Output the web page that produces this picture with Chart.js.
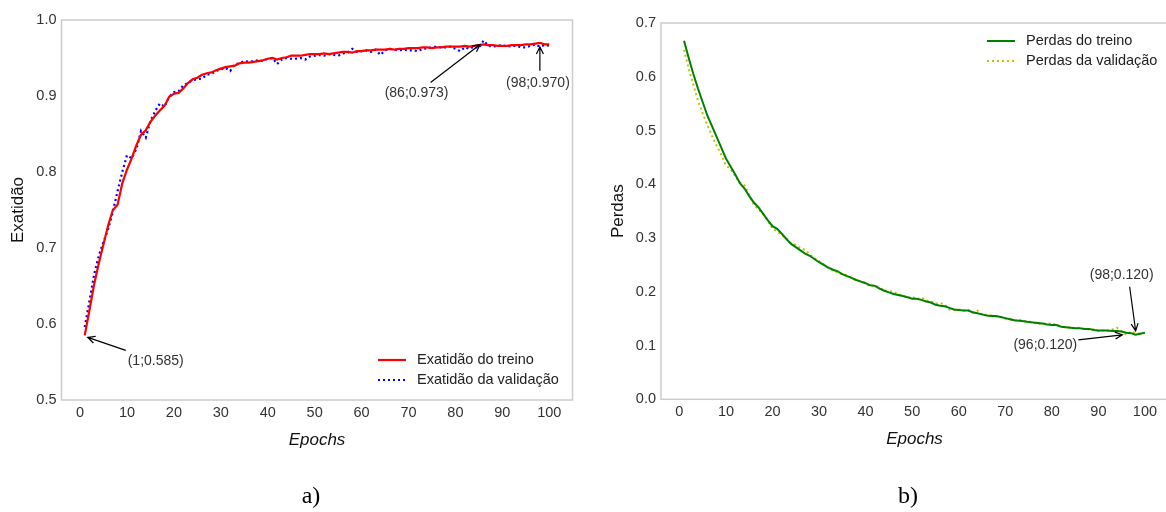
<!DOCTYPE html>
<html>
<head>
<meta charset="utf-8">
<script src="https://cdn.jsdelivr.net/npm/chart.js@4"></script>
<style>
  html, body { margin: 0; padding: 0; background: #fff; overflow: hidden; width: 1166px; height: 512px; }
  canvas { position: absolute; top: 0; }
  #accChart { left: 0; }
  #lossChart { left: 590px; }
</style>
</head>
<body>
<canvas id="accChart" width="590" height="512"></canvas>
<canvas id="lossChart" width="590" height="512"></canvas>
<script>
// epochs 1..100
const epochs = Array.from({ length: 100 }, (_, i) => i + 1);
const xTicks = [0, 10, 20, 30, 40, 50, 60, 70, 80, 90, 100];
const accTicks = [0.5, 0.6, 0.7, 0.8, 0.9, 1.0];
const lossTicks = [0.0, 0.1, 0.2, 0.3, 0.4, 0.5, 0.6, 0.7];

const accTrain = [
  0.585, 0.618, 0.652, 0.680, 0.705, 0.730, 0.750, 0.757, 0.785, 0.803,
  0.818, 0.835, 0.849, 0.855, 0.866, 0.874, 0.881, 0.887, 0.899, 0.903,
  0.904, 0.910, 0.917, 0.922, 0.924, 0.928, 0.930, 0.931, 0.934, 0.936,
  0.938, 0.939, 0.940, 0.943, 0.944, 0.944, 0.945, 0.946, 0.947, 0.949,
  0.950, 0.948, 0.950, 0.951, 0.953, 0.953, 0.953, 0.954, 0.955, 0.955,
  0.955, 0.956, 0.955, 0.956, 0.957, 0.958, 0.958, 0.957, 0.959, 0.959,
  0.960, 0.960, 0.961, 0.961, 0.961, 0.962, 0.961, 0.962, 0.962, 0.963,
  0.963, 0.963, 0.964, 0.964, 0.963, 0.964, 0.964, 0.965, 0.965, 0.965,
  0.965, 0.966, 0.965, 0.966, 0.967, 0.968, 0.967, 0.967, 0.966, 0.966,
  0.966, 0.967, 0.967, 0.967, 0.968, 0.968, 0.969, 0.970, 0.968, 0.968
];
const accVal = [
  0.596, 0.630, 0.665, 0.690, 0.708, 0.725, 0.748, 0.775, 0.800, 0.822,
  0.818, 0.830, 0.854, 0.845, 0.867, 0.880, 0.890, 0.886, 0.899, 0.905,
  0.906, 0.914, 0.917, 0.921, 0.922, 0.923, 0.928, 0.929, 0.933, 0.935,
  0.937, 0.933, 0.942, 0.943, 0.946, 0.945, 0.946, 0.947, 0.946, 0.949,
  0.950, 0.942, 0.948, 0.950, 0.949, 0.949, 0.950, 0.948, 0.952, 0.953,
  0.954, 0.953, 0.955, 0.954, 0.953, 0.956, 0.957, 0.962, 0.958, 0.959,
  0.960, 0.958, 0.961, 0.954, 0.960, 0.962, 0.961, 0.960, 0.961, 0.960,
  0.960, 0.959, 0.962, 0.963, 0.964, 0.965, 0.964, 0.964, 0.965, 0.962,
  0.959, 0.964, 0.962, 0.965, 0.963, 0.973, 0.966, 0.965, 0.966, 0.967,
  0.965, 0.966, 0.966, 0.964, 0.964, 0.966, 0.968, 0.965, 0.967, 0.966
];
const lossTrain = [
  0.667, 0.635, 0.605, 0.578, 0.553, 0.528, 0.508, 0.488, 0.468, 0.448,
  0.433, 0.418, 0.402, 0.392, 0.378, 0.366, 0.357, 0.345, 0.333, 0.322,
  0.317, 0.308, 0.298, 0.289, 0.283, 0.277, 0.271, 0.267, 0.261, 0.255,
  0.250, 0.245, 0.241, 0.238, 0.233, 0.229, 0.226, 0.222, 0.219, 0.216,
  0.212, 0.211, 0.206, 0.202, 0.199, 0.196, 0.194, 0.192, 0.190, 0.187,
  0.187, 0.185, 0.182, 0.180, 0.176, 0.174, 0.173, 0.170, 0.167, 0.166,
  0.165, 0.165, 0.162, 0.160, 0.158, 0.156, 0.155, 0.155, 0.153, 0.151,
  0.149, 0.147, 0.146, 0.145, 0.144, 0.143, 0.142, 0.141, 0.139, 0.138,
  0.138, 0.135, 0.134, 0.133, 0.132, 0.132, 0.131, 0.131, 0.129, 0.128,
  0.128, 0.128, 0.127, 0.127, 0.126, 0.124, 0.123, 0.120, 0.122, 0.124
];
const lossVal = [
  0.650, 0.615, 0.585, 0.555, 0.532, 0.510, 0.490, 0.472, 0.455, 0.435,
  0.428, 0.415, 0.403, 0.398, 0.380, 0.362, 0.353, 0.345, 0.332, 0.318,
  0.312, 0.305, 0.300, 0.290, 0.287, 0.281, 0.278, 0.270, 0.262, 0.257,
  0.251, 0.244, 0.240, 0.236, 0.232, 0.231, 0.226, 0.221, 0.220, 0.216,
  0.210, 0.213, 0.207, 0.203, 0.201, 0.200, 0.195, 0.193, 0.188, 0.191,
  0.186, 0.189, 0.184, 0.182, 0.178, 0.179, 0.176, 0.167, 0.166, 0.167,
  0.165, 0.167, 0.161, 0.165, 0.158, 0.157, 0.156, 0.154, 0.153, 0.150,
  0.149, 0.146, 0.148, 0.145, 0.145, 0.143, 0.140, 0.141, 0.140, 0.142,
  0.138, 0.136, 0.133, 0.134, 0.132, 0.133, 0.131, 0.130, 0.130, 0.127,
  0.128, 0.127, 0.130, 0.133, 0.126, 0.120, 0.126, 0.123, 0.122, 0.124
];

// annotated points: [epoch, value, label]
const accNotes = [[1, 0.585, '(1;0.585)'], [86, 0.973, '(86;0.973)'], [98, 0.970, '(98;0.970)']];
const lossNotes = [[98, 0.120, '(98;0.120)'], [96, 0.120, '(96;0.120)']];

const FONT = "'Liberation Sans', Arial, sans-serif";
const TICK = '#333333';

function drawArrow(ctx, x1, y1, x2, y2) {
  const a = Math.atan2(y2 - y1, x2 - x1);
  const h = 8;
  ctx.beginPath();
  ctx.moveTo(x1, y1);
  ctx.lineTo(x2, y2);
  ctx.moveTo(x2 - h * Math.cos(a - 0.45), y2 - h * Math.sin(a - 0.45));
  ctx.lineTo(x2, y2);
  ctx.lineTo(x2 - h * Math.cos(a + 0.45), y2 - h * Math.sin(a + 0.45));
  ctx.stroke();
}

const decor = {
  id: 'decor',
  beforeDatasetsDraw(chart) {
    const { ctx, chartArea: a } = chart;
    ctx.save();
    ctx.strokeStyle = '#cccccc';
    ctx.lineWidth = 1.5;
    ctx.strokeRect(a.left, a.top, a.right - a.left, a.bottom - a.top);
    ctx.restore();
  },
  afterDatasetsDraw(chart, args, opts) {
    const { ctx } = chart;
    const xs = chart.scales.x, ys = chart.scales.y;
    ctx.save();
    // annotations
    ctx.font = '14px ' + FONT;
    ctx.fillStyle = TICK;
    ctx.strokeStyle = '#000';
    ctx.lineWidth = 1.2;
    ctx.textAlign = 'center';
    ctx.textBaseline = 'middle';
    opts.notes.forEach((n, i) => {
      const o = opts.offsets[i];
      const px = xs.getPixelForValue(n[0]), py = ys.getPixelForValue(n[1]);
      ctx.fillText(n[2], px + o.text[0], py + o.text[1]);
      drawArrow(ctx, px + o.tail[0], py + o.tail[1], px + o.head[0], py + o.head[1]);
    });
    // legend
    const L = opts.legend;
    ctx.font = '14.5px ' + FONT;
    ctx.textAlign = 'left';
    chart.data.datasets.forEach((ds, i) => {
      const y = L.y + i * L.gap;
      ctx.strokeStyle = ds.borderColor;
      ctx.lineWidth = ds.borderWidth;
      ctx.setLineDash(ds.borderDash || []);
      ctx.beginPath();
      ctx.moveTo(L.x, y);
      ctx.lineTo(L.x + 28, y);
      ctx.stroke();
      ctx.setLineDash([]);
      ctx.fillStyle = '#222';
      ctx.fillText(ds.label, L.x + 39, y);
    });
    // caption
    ctx.font = "24px 'Liberation Serif', 'Times New Roman', serif";
    ctx.fillStyle = '#000';
    ctx.textAlign = 'center';
    ctx.fillText(opts.caption, opts.captionX, 497);
    ctx.restore();
  }
};

function makeChart(id, cfg) {
  return new Chart(document.getElementById(id), {
    type: 'line',
    data: {
      labels: epochs,
      datasets: cfg.series.map(s => ({
        label: s.label,
        data: s.data,
        borderColor: s.color,
        borderWidth: s.width,
        borderDash: s.dash,
        borderCapStyle: 'butt',
        pointRadius: 0,
        tension: 0,
        fill: false
      }))
    },
    options: {
      responsive: false,
      animation: false,
      layout: { padding: cfg.padding },
      plugins: {
        legend: { display: false },
        tooltip: { enabled: false },
        decor: cfg.decor
      },
      scales: {
        x: {
          type: 'linear',
          min: -3.95,
          max: 104.95,
          grid: { display: false, drawTicks: false },
          border: { display: false },
          afterBuildTicks: s => { s.ticks = xTicks.map(v => ({ value: v })); },
          afterFit: s => { s.height = 60; },
          ticks: { color: TICK, font: { family: FONT, size: 14.5 }, padding: 4, maxRotation: 0, callback: v => String(v) },
          title: { display: true, text: 'Epochs', color: '#111', font: { family: FONT, size: 17, style: 'italic' }, padding: { top: 0, bottom: 10 } }
        },
        y: {
          min: cfg.yMin,
          max: cfg.yMax,
          grid: { display: false, drawTicks: false },
          border: { display: false },
          afterBuildTicks: s => { s.ticks = cfg.yTicks.map(v => ({ value: v })); },
          afterFit: s => { s.width = cfg.yWidth; },
          ticks: { color: TICK, font: { family: FONT, size: 14.5 }, padding: 5, callback: v => v.toFixed(1) },
          title: { display: true, text: cfg.yTitle, color: '#111', font: { family: FONT, size: 17 }, padding: { top: cfg.yTitlePad, bottom: 0 } }
        }
      }
    },
    plugins: [decor]
  });
}

makeChart('accChart', {
  series: [
    { label: 'Exatidão do treino', data: accTrain, color: '#ff0000', width: 2.2 },
    { label: 'Exatidão da validação', data: accVal, color: '#0000ff', width: 2.2, dash: [2, 3] }
  ],
  padding: { top: 20, right: 17.5, bottom: 52, left: 0 },
  yMin: 0.5, yMax: 1.0, yTicks: accTicks, yWidth: 61.5,
  yTitle: 'Exatidão', yTitlePad: 8,
  decor: {
    notes: accNotes,
    offsets: [
      { text: [71, 26], tail: [41, 15], head: [3, 2] },
      { text: [-67, 53], tail: [-53, 42], head: [-3.5, 4] },
      { text: [-2, 40], tail: [0, 28], head: [0, 4] }
    ],
    legend: { x: 378, y: 360, gap: 20 },
    caption: 'a)', captionX: 311
  }
});

makeChart('lossChart', {
  series: [
    { label: 'Perdas do treino', data: lossTrain, color: '#008000', width: 2 },
    { label: 'Perdas da validação', data: lossVal, color: '#bfbf00', width: 2, dash: [2, 3] }
  ],
  padding: { top: 23, right: 12, bottom: 52.7, left: 0 },
  yMin: 0, yMax: 0.7, yTicks: lossTicks, yWidth: 71,
  yTitle: 'Perdas', yTitlePad: 18,
  decor: {
    notes: lossNotes,
    offsets: [
      { text: [-14, -60], tail: [-6, -48], head: [0, -4] },
      { text: [-81, 10], tail: [-48, 5], head: [-4, 0] }
    ],
    legend: { x: 397, y: 41, gap: 20 },
    caption: 'b)', captionX: 318
  }
});
</script>
</body>
</html>
